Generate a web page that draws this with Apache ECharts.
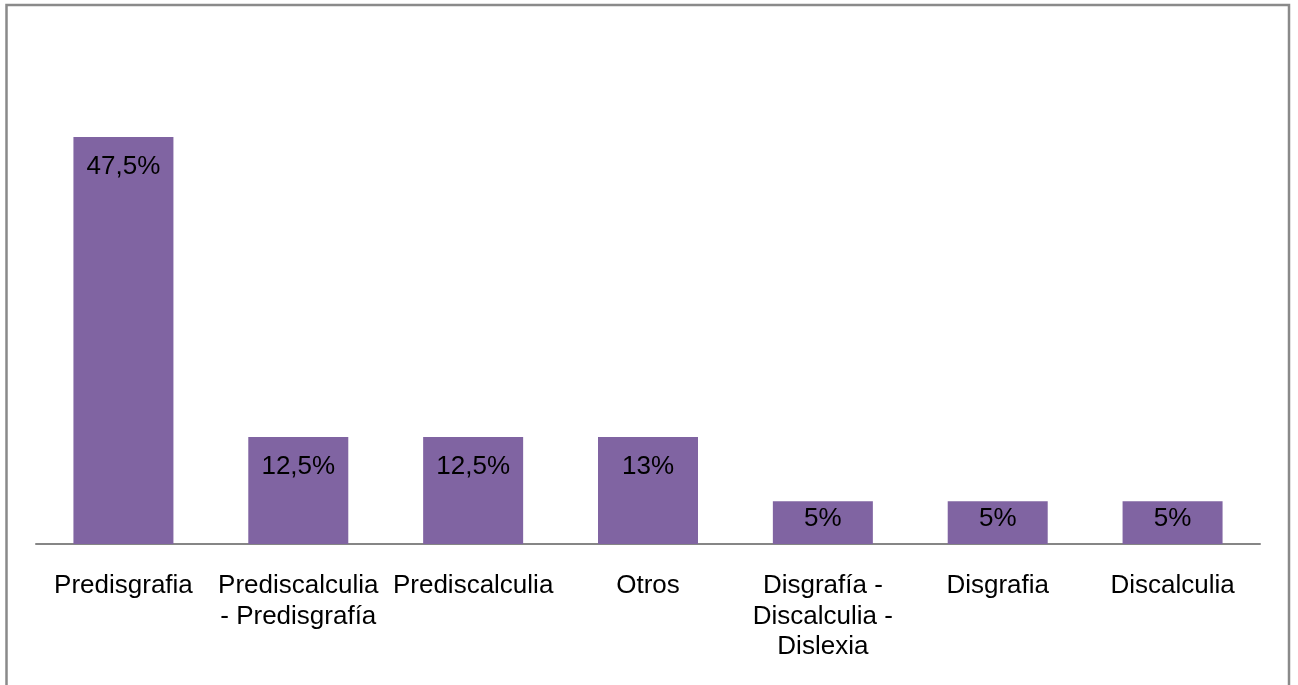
<!DOCTYPE html>
<html>
<head>
<meta charset="utf-8">
<script src="https://cdn.jsdelivr.net/npm/echarts@6/dist/echarts.min.js"></script>
<style>
html,body{margin:0;padding:0;background:#fff;}
#c{width:1298px;height:685px;}
</style>
</head>
<body>
<div id="c"></div>
<script>
const categories = ['Predisgrafia', 'Prediscalculia\n- Predisgrafía', 'Prediscalculia', 'Otros', 'Disgrafía -\nDiscalculia -\nDislexia', 'Disgrafia', 'Discalculia'];
const values = [47.5, 12.5, 12.5, 12.5, 5, 5, 5];
const valueLabels = ['47,5%', '12,5%', '12,5%', '13%', '5%', '5%', '5%'];

const font = "'Liberation Sans', Arial, sans-serif";
const chart = echarts.init(document.getElementById('c'), null, {renderer: 'canvas'});
chart.setOption({
  animation: false,
  backgroundColor: '#ffffff',
  graphic: [{
    type: 'rect',
    shape: {x: 6.5, y: 5, width: 1282.5, height: 700},
    style: {fill: 'none', stroke: '#8a8a8a', lineWidth: 2.5},
    silent: true, z: 100
  }],
  grid: {left: 36, right: 38, top: 30, bottom: 141},
  xAxis: {
    type: 'category',
    data: categories,
    axisLine: {lineStyle: {color: '#868686', width: 2}},
    axisTick: {show: false},
    axisLabel: {interval: 0, color: '#000', fontFamily: font, fontSize: 26, lineHeight: 30.5, margin: 27, align: 'center'}
  },
  yAxis: {
    type: 'value', min: 0, max: 60,
    show: false, splitLine: {show: false}
  },
  series: [{
    type: 'bar',
    barWidth: 100,
    itemStyle: {color: '#8064A2'},
    data: values.map((v, i) => ({
      value: v,
      label: {
        show: true,
        position: 'insideTop',
        distance: v < 10 ? 5 : 17,
        formatter: () => valueLabels[i],
        color: '#000', fontFamily: font, fontSize: 26
      }
    }))
  }]
});
</script>
</body>
</html>
